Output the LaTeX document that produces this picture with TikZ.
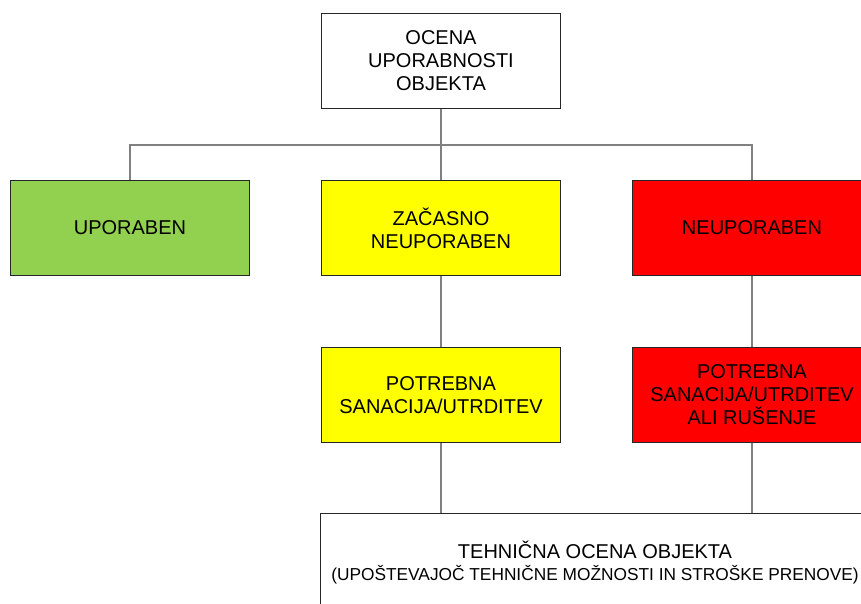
\documentclass[tikz,border=0pt]{standalone}
\usepackage{fontspec}
\setmainfont{Liberation Sans}
\definecolor{boxgreen}{HTML}{92D050}
\definecolor{boxyellow}{HTML}{FFFF00}
\definecolor{boxred}{HTML}{FF0000}
\definecolor{linegray}{HTML}{808080}
\begin{document}
\begin{tikzpicture}[x=1pt,y=-1pt,
  box/.style={draw=black!85, line width=1pt, minimum width=239pt, minimum height=95pt,
    inner sep=0pt, align=center, font=\fontsize{20}{23}\selectfont},
  conn/.style={draw=linegray, line width=1.2pt}]
\useasboundingbox (0,0) rectangle (861,603);
\clip (0,0) rectangle (861,603);
\node[box, fill=white] (top) at (441,61) {OCENA\\UPORABNOSTI\\OBJEKTA};
\node[box, fill=boxgreen] (green) at (130,228) {UPORABEN};
\node[box, fill=boxyellow] (yel1) at (441,228) {ZAČASNO\\NEUPORABEN};
\node[box, fill=boxred] (red1) at (752,228) {NEUPORABEN};
\node[box, fill=boxyellow] (yel2) at (441,395) {POTREBNA\\SANACIJA/UTRDITEV};
\node[box, fill=boxred] (red2) at (752,395) {POTREBNA\\SANACIJA/UTRDITEV\\ALI RUŠENJE};
\node[box, fill=white, minimum width=550pt, minimum height=100pt] (tech) at (595,563)
  {TEHNIČNA OCENA OBJEKTA\\[-1pt]{\fontsize{17.3}{20}\selectfont (UPOŠTEVAJOČ TEHNIČNE MOŽNOSTI IN STROŠKE PRENOVE)}};
\coordinate (j) at (441,145);
\draw[conn] (top.south) -- (j);
\draw[conn] (green.north) |- (j) -| (red1.north);
\draw[conn] (j) -- (yel1.north);
\draw[conn] (yel1.south) -- (yel2.north);
\draw[conn] (red1.south) -- (red2.north);
\draw[conn] (yel2.south) -- (yel2.south |- tech.north);
\draw[conn] (red2.south) -- (red2.south |- tech.north);
\end{tikzpicture}
\end{document}
